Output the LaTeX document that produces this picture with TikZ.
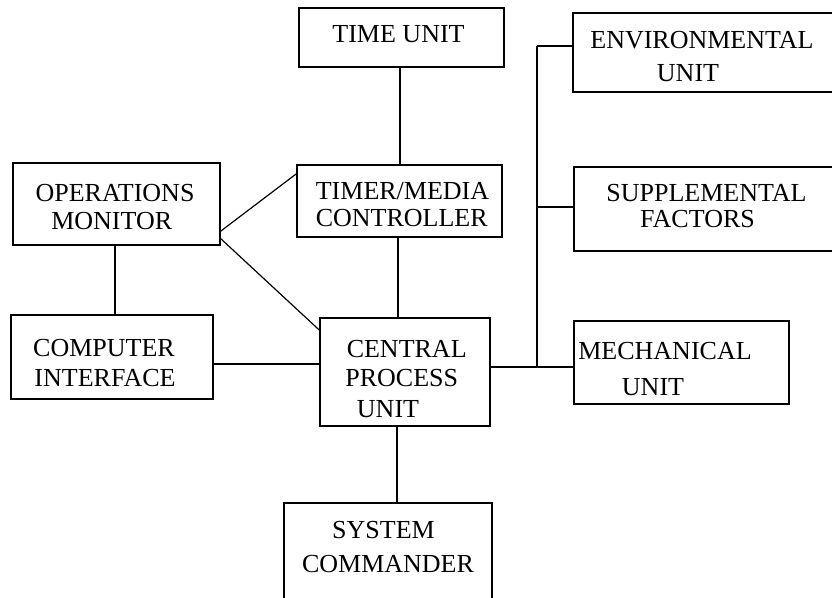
\documentclass[tikz,border=0pt]{standalone}
\usepackage{fontspec}
\setmainfont{Liberation Serif}
\begin{document}
\begin{tikzpicture}[x=1pt,y=-1pt,
  box/.style={draw,line width=1.2pt,inner sep=0pt,outer sep=0pt},
  lbl/.style={inner sep=0pt,anchor=base,font=\fontsize{26}{30}\selectfont},
  wire/.style={line width=1.2pt}]
\useasboundingbox (0,0) rectangle (832,597);
\clip (0,0) rectangle (832,597);

% blocks (left,top)-(right,bottom)
\node[box,minimum width=205pt,minimum height=59pt] (time) at (401.5,37.5) {};
\node[box,minimum width=267pt,minimum height=79pt] (env) at (706.5,52.5) {};
\node[box,minimum width=207pt,minimum height=82pt] (ops) at (116.5,204) {};
\node[box,minimum width=205pt,minimum height=72pt] (timer) at (399.5,201) {};
\node[box,minimum width=266pt,minimum height=84pt] (supp) at (707,209) {};
\node[box,minimum width=202pt,minimum height=84pt] (comp) at (112,357) {};
\node[box,minimum width=170pt,minimum height=108pt] (cpu) at (405,372) {};
\node[box,minimum width=215pt,minimum height=83pt] (mech) at (681.5,362.5) {};
\node[box,minimum width=208pt,minimum height=102pt] (sys) at (388,554) {};

% labels
\node[lbl] (tTime) at (398.5,42) {TIME UNIT};
\node[lbl] (tEnvA) at (702,48.6) {ENVIRONMENTAL};
\node[lbl] (tEnvB) at (688,81.6) {UNIT};
\node[lbl] (tOpsA) at (115,201.6) {OPERATIONS};
\node[lbl] (tOpsB) at (111.7,229.6) {MONITOR};
\node[lbl] (tTmrA) at (402.5,199.6) {TIMER/MEDIA};
\node[lbl] (tTmrB) at (401.7,226.6) {CONTROLLER};
\node[lbl] (tSupA) at (706.5,201) {SUPPLEMENTAL};
\node[lbl] (tSupB) at (697.5,227.6) {FACTORS};
\node[lbl] (tCmpA) at (104,356) {COMPUTER};
\node[lbl] (tCmpB) at (105,386) {INTERFACE};
\node[lbl] (tCpuA) at (406.7,357.6) {CENTRAL};
\node[lbl] (tCpuB) at (401.7,386) {PROCESS};
\node[lbl] (tCpuC) at (388,417.6) {UNIT};
\node[lbl] (tMecA) at (665,359.6) {MECHANICAL};
\node[lbl] (tMecB) at (653,395.6) {UNIT};
\node[lbl] (tSysA) at (383.5,538.6) {SYSTEM};
\node[lbl] (tSysB) at (388,572.6) {COMMANDER};

% vertical links
\draw[wire] ([xshift=-1.5pt]time.south) -- ([xshift=-1.5pt]time.south |- timer.north);
\draw[wire] ([xshift=-1.5pt]timer.south) -- ([xshift=-1.5pt]timer.south |- cpu.north);
\draw[wire] ([xshift=-8pt]cpu.south) -- ([xshift=-8pt]cpu.south |- sys.north);
\draw[wire] ([xshift=-1.5pt]ops.south) -- ([xshift=-1.5pt]ops.south |- comp.north);

% horizontal and diagonal links
\draw[wire] ([yshift=-7pt]comp.east) -- ([yshift=-7pt]comp.east -| cpu.west);
\draw[wire] ([yshift=13.3pt]ops.south east) -- ([yshift=-8.3pt]timer.north west);
\draw[wire] ([yshift=7pt]ops.south east) -- ([yshift=-12.7pt]cpu.north west);

% bus on the right
\coordinate (busT) at (537,46);
\coordinate (busM) at (537,207);
\coordinate (busB) at (537,367);
\draw[wire] (cpu.east |- busB) -- (mech.west |- busB);
\draw[wire] (busB) -- (busT);
\draw[wire] (busT) -- (env.west |- busT);
\draw[wire] (busM) -- (supp.west |- busM);
\end{tikzpicture}
\end{document}
